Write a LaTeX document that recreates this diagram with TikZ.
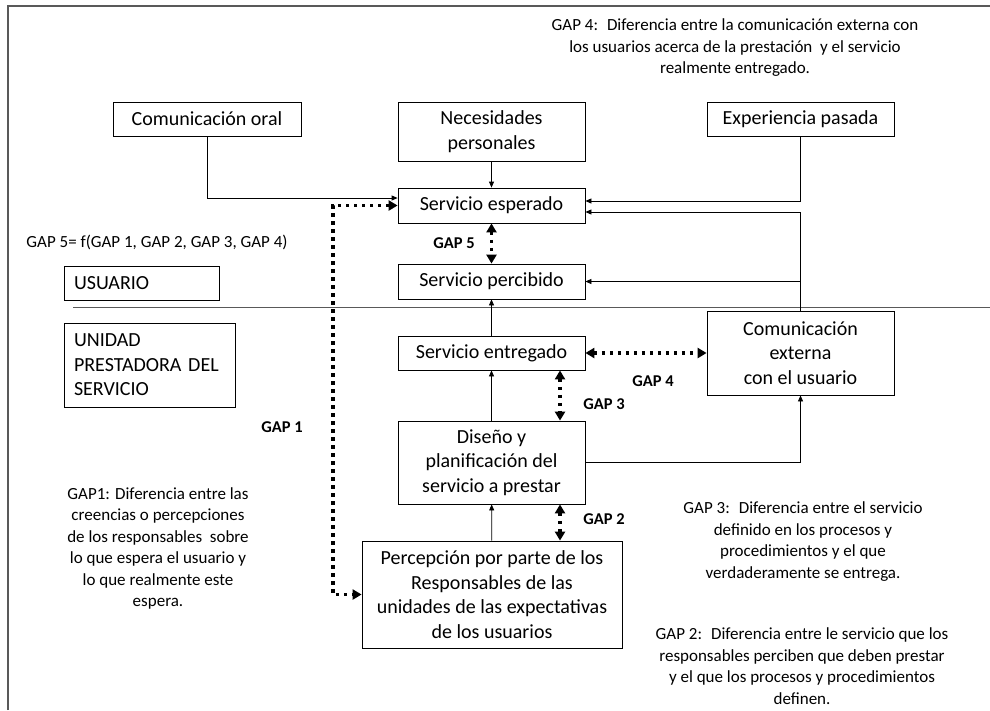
\documentclass[tikz,border=0pt]{standalone}
\usepackage{fontspec}
\setmainfont{Carlito}
\usetikzlibrary{arrows.meta}

\begin{document}
\begin{tikzpicture}[x=1pt, y=-1pt,
		blk/.style={draw, line width=0.8pt, fill=white, font=\fontsize{20}{24.5}\selectfont, align=center, inner sep=0pt},
		sideblk/.style={blk, align=left, inner xsep=10pt},
		txt/.style={font=\fontsize{17}{21.5}\selectfont, align=center},
		gaptag/.style={font=\fontsize{16.5}{20}\selectfont\bfseries},
		conn/.style={line width=0.8pt, -{Triangle[length=6pt,width=5pt]}},
		gapline/.style={line width=3.5pt, dash pattern=on 3.5pt off 4.5pt, {Triangle[length=9pt,width=10pt]}-{Triangle[length=9pt,width=10pt]}}]
		\useasboundingbox (0,0) rectangle (990,710);
		\draw[gray!70!black, line width=1.2pt] (8,710) -- (8,6) -- (990,6);
		\draw[gray!70!black, line width=0.9pt] (73,307) -- (990,307);
		\node[blk, minimum width=188pt, minimum height=34pt] (oral) at (207,119) {Comunicación oral};
		\node[blk, minimum width=187pt, minimum height=59pt] (nec) at (491.5,131.5) {Necesidades\\personales};
		\node[blk, minimum width=187pt, minimum height=34pt] (exp) at (800.5,119) {Experiencia pasada};
		\node[blk, minimum width=187pt, minimum height=35pt] (esp) at (491.5,205.5) {Servicio esperado};
		\node[blk, minimum width=187pt, minimum height=35pt] (per) at (491.5,281.5) {Servicio percibido};
		\node[blk, minimum width=187pt, minimum height=34pt] (ent) at (491.5,353) {Servicio entregado};
		\node[blk, minimum width=187pt, minimum height=83pt] (dis) at (491.5,462.5) {Diseño y\\planificación del\\servicio a prestar};
		\node[blk, minimum width=260pt, minimum height=107pt] (perc) at (492,594.5) {Percepción por parte de los\\Responsables de las\\unidades de las expectativas\\de los usuarios};
		\node[blk, minimum width=187pt, minimum height=84pt] (ext) at (800.5,353) {Comunicación\\externa\\con el usuario};
		\node[sideblk, text width=135pt, minimum height=34pt] (usu) at (141.5,283) {USUARIO};
		\node[sideblk, text width=151pt, minimum height=84pt] (uni) at (149.5,365) {UNIDAD\\PRESTADORA DEL\\SERVICIO};
		\node[txt] (n4) at (735,48) {GAP 4:~ Diferencia entre la comunicación externa con\\los usuarios acerca de la prestación ~y el servicio\\realmente entregado.};
		\node[txt] (n5) at (157,242) {GAP 5= f(GAP 1, GAP 2, GAP 3, GAP 4)};
		\node[txt] (n1) at (158,548.5) {GAP1: Diferencia entre las\\creencias o percepciones\\de los responsables ~sobre\\lo que espera el usuario y\\lo que realmente este\\espera.};
		\node[txt] (n3) at (803,541.5) {GAP 3:~ Diferencia entre el servicio\\definido en los procesos y\\procedimientos y el que\\verdaderamente se entrega.};
		\node[txt] (n2) at (802,666) {GAP 2:~ Diferencia entre le servicio que los\\responsables perciben que deben prestar\\y el que los procesos y procedimientos\\definen.};
		\node[gaptag] (g5) at (454,243) {GAP 5};
		\node[gaptag] (g4) at (653,381) {GAP 4};
		\node[gaptag] (g3) at (604,404) {GAP 3};
		\node[gaptag] (g2) at (604,519) {GAP 2};
		\node[gaptag] (g1) at (282,427) {GAP 1};
		\draw[conn] (oral.south) |- ([yshift=7.5pt]esp.west);
		\draw[conn] (nec) -- (esp);
		\draw[conn] (exp.south) |- ([yshift=4.5pt]esp.east);
		\draw[conn] (ext.north) |- ([yshift=-6.5pt]esp.east);
		\draw[conn] (ext.north |- per.east) -- (per.east);
		\draw[conn] (ent) -- (per);
		\draw[conn] (dis) -- (ent);
		\draw[conn] (perc) -- (dis);
		\draw[conn] (dis.east) -| (ext.south);
		\coordinate (bend) at (333,400);
		\draw[gapline] (esp.west) -| (bend) |- (perc.west);
		\draw[gapline] (esp) -- (per);
		\draw[gapline] (ent) -- (ext);
		\draw[gapline] ([xshift=68.5pt]ent.south) -- ([xshift=68.5pt]dis.north);
		\draw[gapline] ([xshift=68.5pt]dis.south) -- ([xshift=68pt]perc.north);
\end{tikzpicture}
\end{document}
